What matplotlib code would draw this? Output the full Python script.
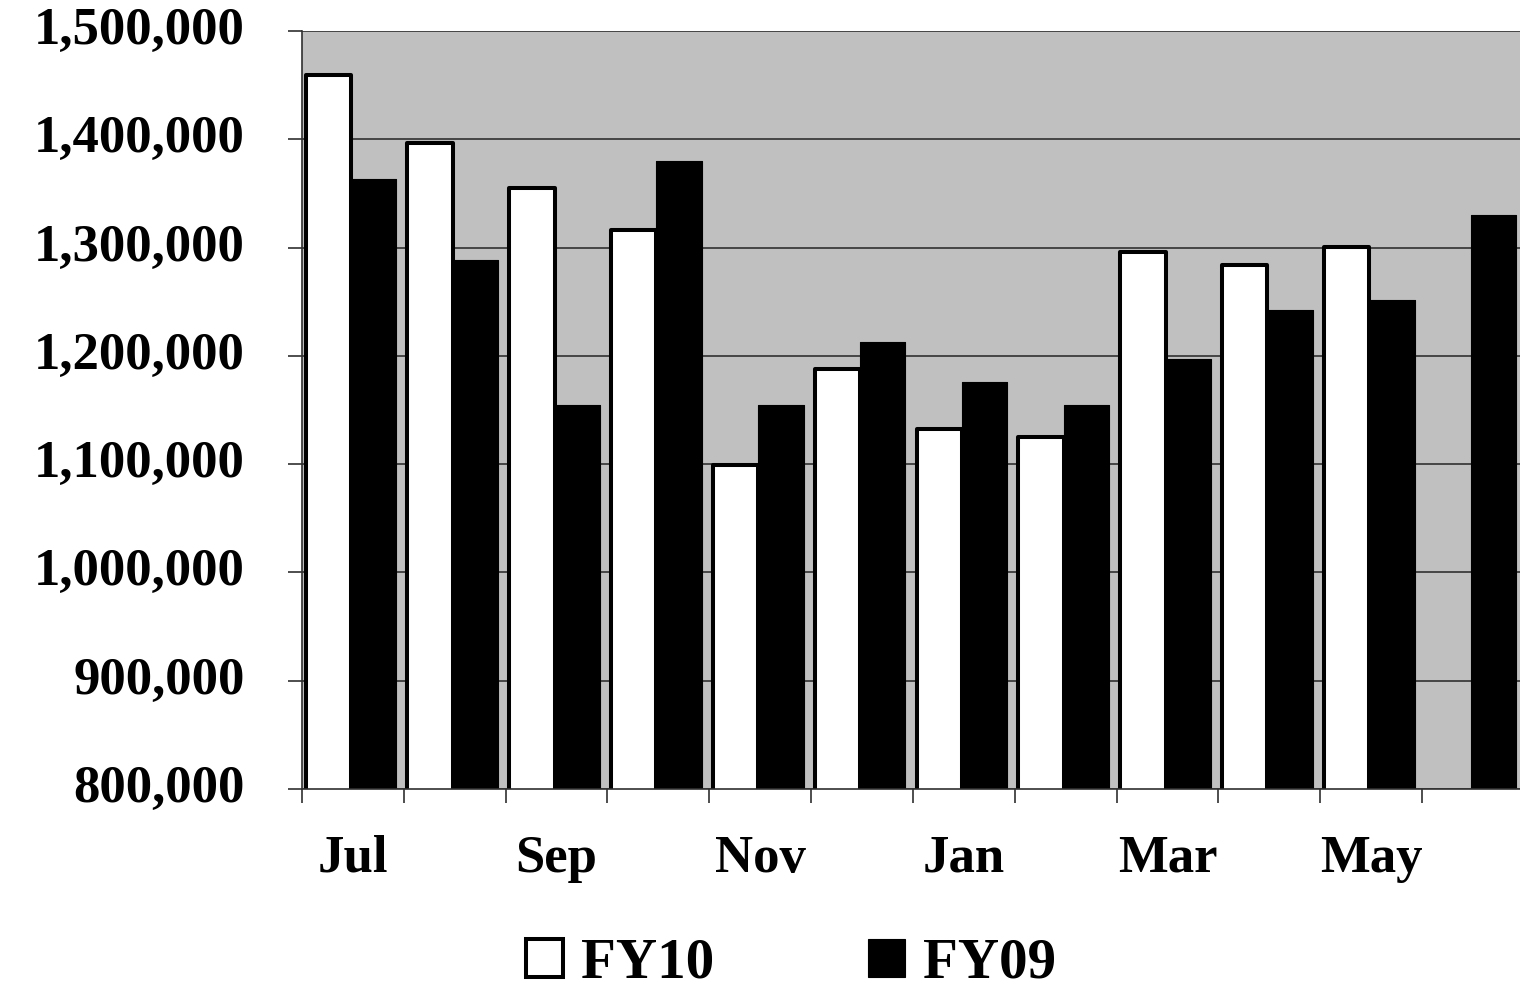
import matplotlib
matplotlib.use("Agg")
import matplotlib.pyplot as plt
import matplotlib.transforms as mtransforms
import numpy as np
from matplotlib.ticker import FuncFormatter, FixedLocator

months = ["Jul", "Aug", "Sep", "Oct", "Nov", "Dec",
          "Jan", "Feb", "Mar", "Apr", "May", "Jun"]
fy10 = [1459000, 1396500, 1355000, 1316000, 1099000, 1188000,
        1132500, 1125000, 1296000, 1284000, 1300500, np.nan]
fy09 = [1363000, 1288500, 1154500, 1380000, 1154500, 1213000,
        1176000, 1154500, 1197000, 1242000, 1251500, 1330000]
series_names = ["FY10", "FY09"]
y_ticks = [800000, 900000, 1000000, 1100000, 1200000, 1300000, 1400000, 1500000]

FONT = "Liberation Serif"
W, H = 1520, 989
fig = plt.figure(figsize=(W / 100, H / 100), dpi=100)
ax = fig.add_axes([302 / W, (H - 789) / H, (1524 - 302) / W, (789 - 31) / H])
ax.set_facecolor("#C0C0C0")

x = np.arange(len(months))
bw = 0.445
b1 = ax.bar(x - bw / 2 - 0.02, fy10, width=bw, bottom=0, color="white",
            edgecolor="black", linewidth=2.9, zorder=3, joinstyle="round")
b2 = ax.bar(x + bw / 2 - 0.02, fy09, width=bw, bottom=0, color="black",
            edgecolor="black", linewidth=0.8, zorder=3, joinstyle="round")

ax.set_xlim(-0.5, len(months) - 0.5)
ax.set_ylim(800000, 1500000)

ax.yaxis.set_major_locator(FixedLocator(y_ticks))
ax.yaxis.set_major_formatter(FuncFormatter(lambda v, p: f"{int(v):,}"))
ax.grid(axis="y", color="#303030", linewidth=1.2, zorder=1)
ax.set_axisbelow(True)

# month labels on every other category, boundary ticks between categories
ax.set_xticks(x[::2])
ax.set_xticklabels(months[::2])
ax.set_xticks(np.arange(-0.5, len(months), 1.0), minor=True)
ax.tick_params(axis="x", which="major", length=0, pad=33)
ax.tick_params(axis="x", which="minor", length=10, width=1.2, color="#303030",
               direction="out")
ax.tick_params(axis="y", which="major", length=10, width=1.2, color="#303030",
               direction="out", pad=31)

for lab in ax.get_xticklabels() + ax.get_yticklabels():
    lab.set_fontfamily(FONT)
    lab.set_fontweight("bold")
    lab.set_fontsize(38)

# value labels sit slightly above their gridlines
lift = mtransforms.ScaledTranslation(0, 4 / 72, fig.dpi_scale_trans)
for tick in ax.yaxis.get_major_ticks():
    tick.label1.set_transform(tick.label1.get_transform() + lift)

for side in ("top", "right"):
    ax.spines[side].set_visible(False)
for side in ("left", "bottom"):
    ax.spines[side].set_color("#303030")
    ax.spines[side].set_linewidth(1.2)
    ax.spines[side].set_zorder(4)

leg = fig.legend([b1, b2], series_names, loc="center", ncol=2,
                 bbox_to_anchor=(791 / W, 1 - 964 / H), frameon=False,
                 prop={"family": FONT, "weight": "bold", "size": 41},
                 handlelength=0.65, handleheight=0.67, handletextpad=0.32,
                 columnspacing=2.7, borderpad=0)

fig.savefig("out.png", dpi=100)
